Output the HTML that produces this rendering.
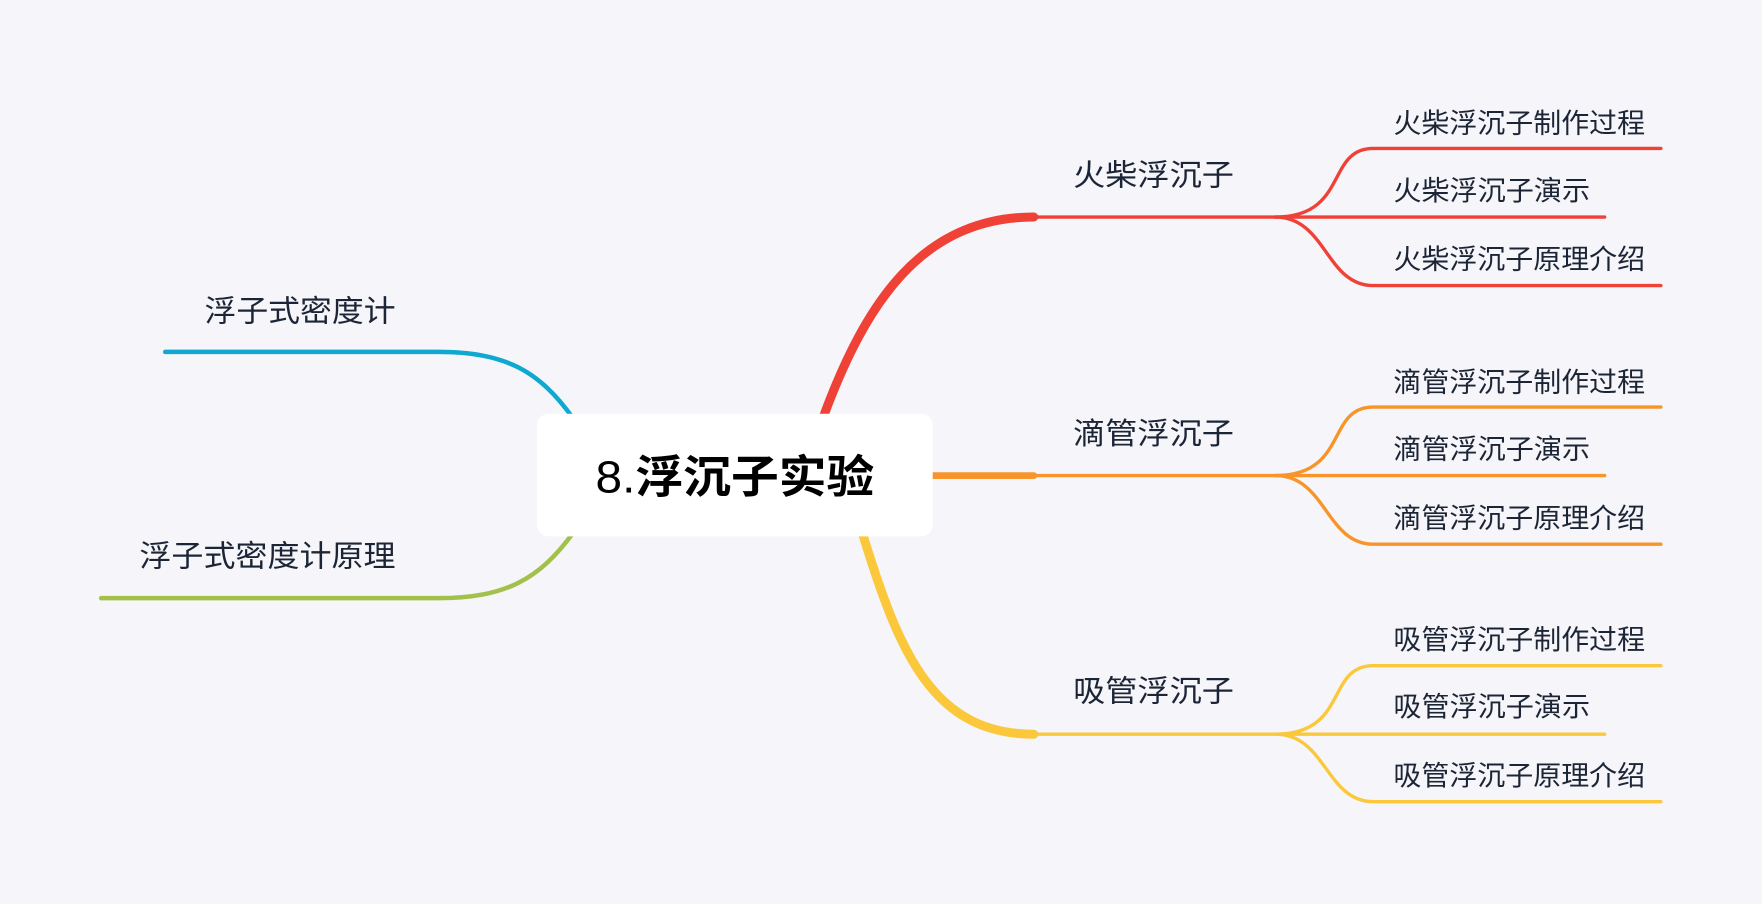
<!DOCTYPE html>
<html><head><meta charset="utf-8"><style>
html,body{margin:0;padding:0;background:#f5f5fa;}
svg{display:block}
text{font-family:"Liberation Sans","Noto Sans CJK SC",sans-serif;fill:#1c2536}
</style></head><body>
<svg width="1762" height="904" viewBox="0 0 1568 804" preserveAspectRatio="none">
<rect width="1568" height="804" fill="#f5f5fa"/>
<g fill="none" stroke-linecap="round">
<path d="M733,370 C770,270 820,193 920,193" stroke="#ef4136" stroke-width="8"/>
<path d="M918,193 L1135,193" stroke="#ef4136" stroke-width="3"/>
<path d="M1135,193 C1200,193 1180,132 1222,132 L1478,132" stroke="#ef4136" stroke-width="3"/>
<path d="M1135,193 L1428,193" stroke="#ef4136" stroke-width="3"/>
<path d="M1135,193 C1180,193 1180,254 1222,254 L1478,254" stroke="#ef4136" stroke-width="3"/>
<path d="M830,423 L920,423" stroke="#f7942a" stroke-width="6"/>
<path d="M918,423 L1135,423" stroke="#f7942a" stroke-width="3"/>
<path d="M1135,423 C1200,423 1180,362 1222,362 L1478,362" stroke="#f7942a" stroke-width="3"/>
<path d="M1135,423 L1428,423" stroke="#f7942a" stroke-width="3"/>
<path d="M1135,423 C1180,423 1180,484 1222,484 L1478,484" stroke="#f7942a" stroke-width="3"/>
<path d="M768,476 C800,580 830,653 920,653" stroke="#fbc83b" stroke-width="8"/>
<path d="M918,653 L1135,653" stroke="#fbc83b" stroke-width="3"/>
<path d="M1135,653 C1200,653 1180,592 1222,592 L1478,592" stroke="#fbc83b" stroke-width="3"/>
<path d="M1135,653 L1428,653" stroke="#fbc83b" stroke-width="3"/>
<path d="M1135,653 C1180,653 1180,713 1222,713 L1478,713" stroke="#fbc83b" stroke-width="3"/>
<path d="M510,372 C480,330 450,313 390,313 L147,313" stroke="#0ea8d0" stroke-width="4"/>
<path d="M510,474 C480,515 450,532 390,532 L90,532" stroke="#a2c04a" stroke-width="4"/>
</g>
<rect x="478" y="368" width="352" height="109" rx="10" fill="#fff"/>
<text x="530" y="438" font-size="40" textLength="248" lengthAdjust="spacingAndGlyphs" style="fill:#000">8.<tspan font-weight="bold">浮沉子实验</tspan></text>
<g font-size="27">
<text x="955" y="165" textLength="143" lengthAdjust="spacingAndGlyphs">火柴浮沉子</text>
<text x="955" y="395" textLength="143" lengthAdjust="spacingAndGlyphs">滴管浮沉子</text>
<text x="955" y="624" textLength="143" lengthAdjust="spacingAndGlyphs">吸管浮沉子</text>
<text x="182" y="286" textLength="170" lengthAdjust="spacingAndGlyphs">浮子式密度计</text>
<text x="124" y="504" textLength="228" lengthAdjust="spacingAndGlyphs">浮子式密度计原理</text>
</g>
<g font-size="24.5">
<text x="1240" y="118" textLength="224" lengthAdjust="spacingAndGlyphs">火柴浮沉子制作过程</text>
<text x="1240" y="178" textLength="175" lengthAdjust="spacingAndGlyphs">火柴浮沉子演示</text>
<text x="1240" y="239" textLength="224" lengthAdjust="spacingAndGlyphs">火柴浮沉子原理介绍</text>
<text x="1240" y="348" textLength="224" lengthAdjust="spacingAndGlyphs">滴管浮沉子制作过程</text>
<text x="1240" y="408" textLength="175" lengthAdjust="spacingAndGlyphs">滴管浮沉子演示</text>
<text x="1240" y="469" textLength="224" lengthAdjust="spacingAndGlyphs">滴管浮沉子原理介绍</text>
<text x="1240" y="577" textLength="224" lengthAdjust="spacingAndGlyphs">吸管浮沉子制作过程</text>
<text x="1240" y="637" textLength="175" lengthAdjust="spacingAndGlyphs">吸管浮沉子演示</text>
<text x="1240" y="698" textLength="224" lengthAdjust="spacingAndGlyphs">吸管浮沉子原理介绍</text>
</g>
</svg>
</body></html>
